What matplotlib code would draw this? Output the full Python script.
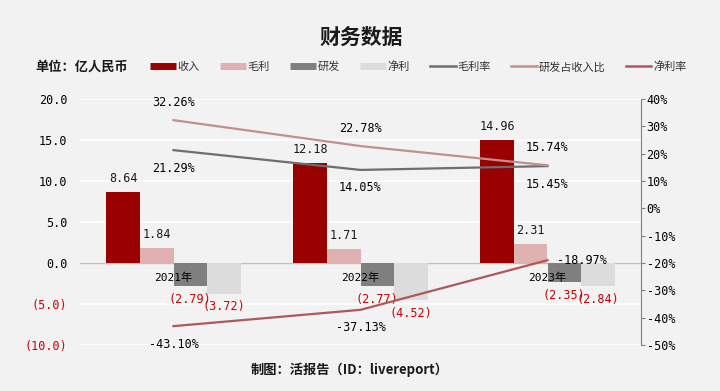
import matplotlib.pyplot as plt
from matplotlib.lines import Line2D
from matplotlib.ticker import FuncFormatter, MultipleLocator

plt.rcParams['font.family'] = ['Noto Sans CJK SC', 'DejaVu Sans']
plt.rcParams['axes.unicode_minus'] = False

years = ['2021年', '2022年', '2023年']
revenue = [8.64, 12.18, 14.96]
gross_profit = [1.84, 1.71, 2.31]
rd_expense = [-2.79, -2.77, -2.35]
net_profit = [-3.72, -4.52, -2.84]
gross_margin = [21.29, 14.05, 15.45]
rd_ratio = [32.26, 22.78, 15.74]
net_margin = [-43.10, -37.13, -18.97]

BG = '#f2f2f2'
NUM = ['DejaVu Sans Mono', 'Noto Sans CJK SC']
RED = '#cc0000'

bar_colors = ['#990000', '#dfb1b1', '#7f7f7f', '#dcdcdc']
line_colors = ['#6e6e6e', '#c38e8e', '#b05858']

fig = plt.figure(figsize=(7.2, 3.91), dpi=100, facecolor=BG)
ax = fig.add_axes([80 / 720, 46 / 391, 561 / 720, 246 / 391], facecolor=BG)
ax.set_xlim(-0.5, 2.5)
ax.set_ylim(-10, 20)
ax.yaxis.set_major_locator(MultipleLocator(5))
ax.grid(axis='y', color='white', linewidth=1.2)
ax.set_axisbelow(True)
for s in ax.spines.values():
    s.set_visible(False)
ax.set_xticks([])
ax.tick_params(axis='y', length=0, pad=9, labelsize=8.5)
ax.yaxis.set_major_formatter(FuncFormatter(
    lambda v, p: f'({abs(v):.1f})' if v < 0 else f'{v:.1f}'))
for lbl in ax.get_yticklabels():
    lbl.set_family(NUM)
fig.canvas.draw()
for lbl in ax.get_yticklabels():
    lbl.set_family(NUM)
    if lbl.get_text().startswith('('):
        lbl.set_color(RED)
ax.axhline(0, color='#bfbfbf', linewidth=1, zorder=1)

w = 0.18
series = [revenue, gross_profit, rd_expense, net_profit]
for k, vals in enumerate(series):
    off = (k - 1.5) * w
    for i, v in enumerate(vals):
        ax.bar(i + off, v, width=w, color=bar_colors[k], zorder=2)
        if v >= 0:
            ax.annotate(f'{v:.2f}', (i + off, v), xytext=(0, 5), textcoords='offset points',
                        ha='center', va='bottom', fontsize=8.5, family=NUM, color='#1a1a1a')
        else:
            ax.annotate(f'({abs(v):.2f})', (i + off, v), xytext=(0, -5), textcoords='offset points',
                        ha='center', va='top', fontsize=8.5, family=NUM, color=RED)

ax2 = ax.twinx()
ax2.set_ylim(-50, 40)
ax2.yaxis.set_major_locator(MultipleLocator(10))
ax2.yaxis.set_major_formatter(FuncFormatter(lambda v, p: f'{v:.0f}%'))
for name, s in ax2.spines.items():
    s.set_visible(name == 'right')
ax2.spines['right'].set_color('#808080')
ax2.tick_params(axis='y', length=3, pad=1, color='#808080', labelsize=8.5)
for lbl in ax2.get_yticklabels():
    lbl.set_family(NUM)

x = list(range(len(years)))
ax2.plot(x, gross_margin, color=line_colors[0], linewidth=1.6)
ax2.plot(x, rd_ratio, color=line_colors[1], linewidth=1.6)
ax2.plot(x, net_margin, color=line_colors[2], linewidth=1.6)

for i in x:
    ax2.annotate(f'{gross_margin[i]:.2f}%', (i, gross_margin[i]), xytext=(0, -13),
                 textcoords='offset points', ha='center', va='center', fontsize=8.5, family=NUM)
    ax2.annotate(f'{rd_ratio[i]:.2f}%', (i, rd_ratio[i]), xytext=(0, 13),
                 textcoords='offset points', ha='center', va='center', fontsize=8.5, family=NUM)
    if i < len(x) - 1:
        ax2.annotate(f'{net_margin[i]:.2f}%', (i, net_margin[i]), xytext=(0, -13),
                     textcoords='offset points', ha='center', va='center', fontsize=8.5, family=NUM)
    else:
        ax2.annotate(f'{net_margin[i]:.2f}%', (i, net_margin[i]), xytext=(7, 0),
                     textcoords='offset points', ha='left', va='center', fontsize=8.5, family=NUM)

for i, yr in enumerate(years):
    ax2.annotate(yr, (i, -20), xytext=(0, -11), textcoords='offset points',
                 ha='center', va='center', fontsize=8, family=NUM, zorder=5)

fig.text(361 / 720, 1 - 37 / 391, '财务数据', ha='center', va='center',
         fontsize=15, fontweight='bold', color='#1a1a1a')
fig.text(35 / 720, 1 - 67 / 391, '单位：亿人民币', ha='left', va='center',
         fontsize=9.5, fontweight='bold', color='#1a1a1a')
fig.text(350 / 720, 1 - 370 / 391, '制图：活报告（ID：livereport）', ha='center', va='center',
         fontsize=9.5, fontweight='bold', color='#1a1a1a')

handles = [Line2D([], [], color=c, linewidth=5, solid_capstyle='butt') for c in bar_colors]
handles += [Line2D([], [], color=c, linewidth=1.8) for c in line_colors]
labels = ['收入', '毛利', '研发', '净利', '毛利率', '研发占收入比', '净利率']
leg = fig.legend(handles, labels, ncol=7, loc='center left', bbox_to_anchor=(150 / 720, 1 - 67 / 391),
                 frameon=False, fontsize=8, handlelength=2.3, handletextpad=0.2,
                 columnspacing=1.8, borderpad=0, borderaxespad=0)
for t in leg.get_texts():
    t.set_color('#333333')

fig.savefig('out.png', dpi=100, facecolor=BG)
